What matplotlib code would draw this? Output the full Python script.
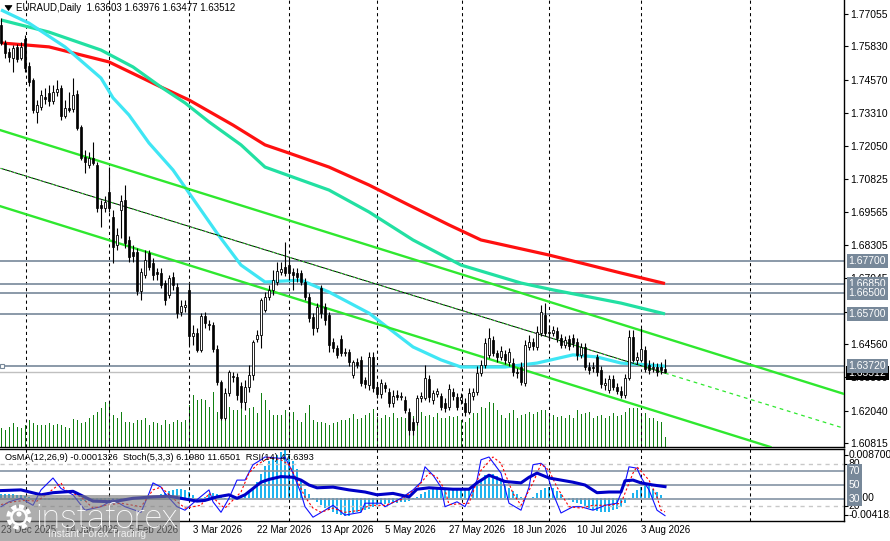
import numpy as np
import matplotlib
matplotlib.use("Agg")
import matplotlib.pyplot as plt
from matplotlib.patches import Rectangle, Circle, Polygon
import matplotlib.transforms as mtransforms

plt.rcParams['font.family'] = ['Liberation Sans', 'DejaVu Sans']

# ---------------- data ----------------
header = "EURAUD,Daily  1.63603 1.63976 1.63477 1.63512"
ind_header = "OsMA(12,26,9) -0.0001326  Stoch(5,3,3) 6.1980 11.6501  RSI(14) 47.6393"

opens = [1.7664,1.7596,1.7562,1.7539,1.7581,1.7539,1.7611,1.7509,1.7456,1.7334,
         1.7353,1.7391,1.7406,1.7376,1.7410,1.7425,1.7319,1.7350,1.7346,1.7403,
         1.7278,1.7164,1.7134,1.7160,1.7134,1.6982,1.6971,1.7032,1.6937,1.6831,
         1.6963,1.7001,1.6850,1.6804,1.6804,1.6657,1.6717,1.6801,1.6763,1.6729,
         1.6725,1.6687,1.6642,1.6710,1.6672,1.6577,1.6596,1.6661,1.6486,1.6498,
         1.6433,1.6562,1.6532,1.6528,1.6437,1.6312,1.6176,1.6271,1.6335,1.6331,
         1.6297,1.6237,1.6293,1.6339,1.6475,1.6490,1.6585,1.6634,1.6661,1.6691,
         1.6729,1.6748,1.6755,1.6729,1.6725,1.6725,1.6691,1.6634,1.6558,1.6517,
         1.6668,1.6596,1.6566,1.6464,1.6441,1.6475,1.6422,1.6426,1.6339,1.6388,
         1.6396,1.6320,1.6301,1.6407,1.6293,1.6267,1.6301,1.6274,1.6233,1.6263,
         1.6256,1.6244,1.6199,1.6161,1.6161,1.6252,1.6252,1.6324,1.6244,1.6267,
         1.6259,1.6233,1.6218,1.6274,1.6256,1.6244,1.6233,1.6199,1.6259,1.6274,
         1.6346,1.6377,1.6415,1.6471,1.6422,1.6407,1.6418,1.6388,1.6384,1.6350,
         1.6369,1.6308,1.6445,1.6464,1.6445,1.6498,1.6566,1.6502,1.6498,1.6505,
         1.6479,1.6452,1.6475,1.6479,1.6464,1.6415,1.6445,1.6369,1.6369,1.6407,
         1.6358,1.6301,1.6282,1.6324,1.6293,1.6278,1.6263,1.6327,1.6483,1.6396,
         1.6396,1.6433,1.6377,1.6365,1.6369,1.6369,1.63603]
highs = [1.7690,1.7607,1.7577,1.7588,1.7592,1.7600,1.7626,1.7524,1.7463,1.7380,
         1.7418,1.7425,1.7437,1.7437,1.7456,1.7437,1.7380,1.7410,1.7463,1.7418,
         1.7285,1.7191,1.7183,1.7221,1.7145,1.7001,1.7017,1.7126,1.6963,1.6895,
         1.7020,1.7058,1.6865,1.6831,1.6820,1.6744,1.6812,1.6812,1.6782,1.6744,
         1.6744,1.6698,1.6717,1.6729,1.6687,1.6623,1.6623,1.6687,1.6528,1.6517,
         1.6573,1.6577,1.6547,1.6539,1.6452,1.6320,1.6290,1.6358,1.6350,1.6346,
         1.6312,1.6320,1.6377,1.6471,1.6509,1.6630,1.6653,1.6680,1.6736,1.6767,
         1.6767,1.6842,1.6782,1.6744,1.6744,1.6736,1.6706,1.6649,1.6573,1.6611,
         1.6680,1.6611,1.6577,1.6479,1.6452,1.6490,1.6441,1.6437,1.6396,1.6403,
         1.6411,1.6331,1.6426,1.6426,1.6308,1.6324,1.6312,1.6290,1.6282,1.6282,
         1.6274,1.6259,1.6214,1.6176,1.6263,1.6274,1.6377,1.6339,1.6282,1.6290,
         1.6271,1.6252,1.6305,1.6290,1.6271,1.6271,1.6252,1.6290,1.6290,1.6373,
         1.6396,1.6479,1.6517,1.6486,1.6433,1.6449,1.6433,1.6441,1.6403,1.6365,
         1.6388,1.6471,1.6490,1.6479,1.6524,1.6604,1.6611,1.6528,1.6524,1.6521,
         1.6494,1.6486,1.6490,1.6494,1.6479,1.6460,1.6460,1.6388,1.6388,1.6418,
         1.6373,1.6327,1.6339,1.6339,1.6308,1.6297,1.6343,1.6509,1.6509,1.6426,
         1.6517,1.6449,1.6396,1.6388,1.6384,1.6388,1.63976]
lows = [1.7588,1.7539,1.7524,1.7486,1.7524,1.7531,1.7486,1.7433,1.7331,1.7293,
        1.7342,1.7365,1.7357,1.7365,1.7395,1.7304,1.7312,1.7334,1.7334,1.7266,
        1.7153,1.7104,1.7122,1.7134,1.6956,1.6899,1.6956,1.6956,1.6763,1.6812,
        1.6857,1.6820,1.6767,1.6767,1.6642,1.6623,1.6706,1.6736,1.6698,1.6698,
        1.6668,1.6604,1.6630,1.6661,1.6555,1.6562,1.6577,1.6452,1.6452,1.6426,
        1.6426,1.6517,1.6509,1.6426,1.6301,1.6168,1.6168,1.6259,1.6312,1.6244,
        1.6214,1.6206,1.6274,1.6320,1.6464,1.6441,1.6577,1.6623,1.6642,1.6680,
        1.6717,1.6714,1.6698,1.6661,1.6691,1.6680,1.6623,1.6539,1.6490,1.6502,
        1.6555,1.6528,1.6426,1.6426,1.6403,1.6411,1.6411,1.6373,1.6327,1.6365,
        1.6297,1.6290,1.6282,1.6274,1.6252,1.6252,1.6274,1.6218,1.6218,1.6244,
        1.6244,1.6195,1.6112,1.6112,1.6150,1.6237,1.6244,1.6237,1.6229,1.6256,
        1.6206,1.6199,1.6206,1.6244,1.6206,1.6229,1.6184,1.6191,1.6244,1.6263,
        1.6335,1.6365,1.6403,1.6411,1.6388,1.6396,1.6380,1.6373,1.6335,1.6327,
        1.6301,1.6297,1.6433,1.6433,1.6433,1.6486,1.6486,1.6471,1.6486,1.6464,
        1.6441,1.6441,1.6433,1.6445,1.6396,1.6403,1.6358,1.6343,1.6350,1.6335,
        1.6290,1.6282,1.6271,1.6282,1.6267,1.6252,1.6252,1.6320,1.6388,1.6380,
        1.6388,1.6350,1.6343,1.6350,1.6335,1.6343,1.63477]
closes = [1.7596,1.7558,1.7543,1.7577,1.7535,1.7581,1.7501,1.7448,1.7342,1.7361,
          1.7399,1.7384,1.7376,1.7410,1.7422,1.7319,1.7350,1.7342,1.7399,1.7274,
          1.7160,1.7145,1.7160,1.7141,1.6971,1.6971,1.6994,1.6971,1.6823,1.6869,
          1.6998,1.6839,1.6786,1.6789,1.6657,1.6729,1.6774,1.6748,1.6717,1.6721,
          1.6680,1.6623,1.6706,1.6680,1.6573,1.6600,1.6604,1.6486,1.6498,1.6433,
          1.6562,1.6536,1.6528,1.6437,1.6312,1.6176,1.6271,1.6350,1.6331,1.6263,
          1.6237,1.6293,1.6339,1.6464,1.6490,1.6623,1.6634,1.6661,1.6698,1.6733,
          1.6740,1.6725,1.6725,1.6717,1.6710,1.6691,1.6634,1.6555,1.6517,1.6596,
          1.6573,1.6547,1.6452,1.6441,1.6415,1.6422,1.6426,1.6388,1.6388,1.6377,
          1.6308,1.6305,1.6407,1.6290,1.6267,1.6308,1.6290,1.6233,1.6259,1.6256,
          1.6259,1.6206,1.6131,1.6131,1.6252,1.6259,1.6327,1.6256,1.6271,1.6278,
          1.6218,1.6214,1.6286,1.6259,1.6218,1.6256,1.6199,1.6271,1.6274,1.6346,
          1.6377,1.6460,1.6479,1.6422,1.6407,1.6430,1.6396,1.6426,1.6350,1.6346,
          1.6312,1.6452,1.6464,1.6449,1.6502,1.6577,1.6498,1.6498,1.6509,1.6479,
          1.6452,1.6471,1.6449,1.6460,1.6415,1.6445,1.6369,1.6358,1.6365,1.6350,
          1.6305,1.6308,1.6324,1.6293,1.6278,1.6263,1.6327,1.6483,1.6396,1.6407,
          1.6437,1.6361,1.6358,1.6369,1.6350,1.6358,1.63512]
volumes = [1900,1700,2000,2400,2000,1900,2200,2700,2400,2200,2200,2200,2400,2200,2300,2200,2000,1900,2800,2700,
           2400,2500,2900,3200,3500,3900,4500,4400,3200,2900,3500,2500,2500,2400,2700,2700,2900,2200,2500,2400,
           2200,2700,2300,2500,2700,2500,2700,4200,5200,4700,4800,4700,4000,5500,3500,3400,4500,4000,3700,3700,
           3900,3200,3900,4000,3400,5400,4700,3700,3200,3200,3200,3700,3500,3500,2700,2500,3400,4200,2700,2500,
           2500,2400,2200,2400,2500,2700,2700,2900,3300,2800,2900,3200,3400,3800,3000,2900,3200,3000,3400,2900,
           3000,2900,3300,3100,2700,3500,3100,3200,3000,3400,2900,2900,3100,3000,3100,2700,2500,2900,3400,3400,
           4000,3900,4500,4400,3700,3200,2900,3400,3700,2900,3200,3300,3500,3300,3500,3700,3700,3400,3200,3000,
           3100,2900,3200,2900,3700,3300,3400,3500,2900,3100,3200,2900,3100,3400,3100,3200,3500,3900,3900,3900,
           3200,3400,2900,2900,2600,2500,1000]

# moving averages (read at selected bars)
ma_red_idx = [0,12,27,40,47,58,66,72,82,92,102,112,120,137,155,166]
ma_red_val = [1.7596,1.7581,1.7524,1.7429,1.7380,1.7285,1.7210,1.7179,1.7126,1.7058,1.6982,1.6907,1.6850,1.6793,1.6725,1.6685]
ma_teal_idx = [0,12,25,33,40,46,52,60,66,75,82,92,103,115,130,138,155,166]
ma_teal_val = [1.7683,1.7637,1.7569,1.7505,1.7429,1.7369,1.7297,1.7210,1.7126,1.7077,1.7039,1.6956,1.6850,1.6755,1.6687,1.6661,1.6611,1.6570]
ma_cyan_idx = [0,7,16,25,28,32,37,43,47,54,60,66,75,82,92,103,110,115,126,134,143,149,155,166]
ma_cyan_val = [1.7721,1.7671,1.7581,1.7463,1.7388,1.7323,1.7217,1.7115,1.7028,1.6876,1.6755,1.6691,1.6698,1.6653,1.6573,1.6445,1.6396,1.6369,1.6369,1.6384,1.6415,1.6407,1.6384,1.6372]

# channel anchors (bar index, price)
ch_upper = [(0, 1.7265), (166, 1.6479)]
ch_mid = [(0, 1.7121), (166, 1.6346)]
ch_lower = [(0, 1.6977), (166, 1.6191)]

levels = [1.67700, 1.66850, 1.66500, 1.65700, 1.63720]
bid = 1.63512
price_ticks = [1.77055, 1.75830, 1.74570, 1.73310, 1.72050, 1.70825, 1.69565, 1.68305,
               1.67045, 1.65785, 1.64560, 1.63300, 1.62040, 1.60815]

osma_e4 = [6,7,7,6,5,4,3,
           1,-1,-3,-4,-4,-4,
           -3,-3,-2,-3,-4,-5,-5,-6,
           -6,-6,-5,-5,-6,-6,-6,-5,-5,-5,
           -5,-4,-4,-3,-2,-1,0,2,
           3,6,9,12,14,15,15,13,
           10,5,0,-3,2,6,8,6,2,-3,-4,-2,1,3,5,
           9,15,28,42,56,65,72,77,82,85,76,66,52,34,16,6,
           -3,-8,-13,-18,-22,-26,-29,-31,-33,-32,
           -27,-26,-25,-23,-20,-17,-14,-12,-11,-10,-9,-9,-8,-8,-6,-3,2,
           6,10,13,15,17,17,16,16,15,15,14,13,15,19,24,30,40,
           43,42,38,30,24,18,12,6,1,-2,-1,2,
           8,14,18,19,17,12,6,0,
           -5,-8,-10,-12,-16,-19,-22,-24,-26,-26,-25,-23,-20,-16,-10,-3,
           8,14,19,22,21,16,10,4,-1.326]

rsi_idx = [0,5,10,13,18,23,28,33,38,42,46,49,51,54,57,59,61,63,65,67,70,73,75,77,79,83,87,91,94,98,
           102,104,107,110,113,117,119,122,126,130,132,134,137,143,146,149,152,155,156,158,160,163,166]
rsi_val = [42,43,36,39,41,27,26,31,33,34,30,27,28,33,36,31,36,45,54,58,62,61,57,50,46,47,43,40,36,38,
           33,44,46,45,44,44,53,64,55,53,61,67,60,54,50,39,40,40,56,57,53,50,47.64]

stk_main_idx = [0,2,5,8,10,13,15,18,21,25,28,31,35,37,38,40,41,44,46,49,52,53,55,57,59,61,63,65,66,70,
                71,73,75,76,78,81,83,86,90,91,95,96,100,103,105,106,108,110,111,114,116,119,120,122,125,127,130,
                132,133,135,136,138,140,143,145,148,151,154,156,157,159,160,162,164,166]
stk_main_val = [19,26,31,21,43,60,45,36,14,19,29,19,11,38,53,47,38,19,14,29,43,26,11,31,57,57,79,86,90,88,
                90,67,38,19,4,14,21,7,11,24,24,19,31,43,54,76,64,47,19,26,19,57,86,90,67,24,14,
                47,79,81,76,38,10,19,19,14,21,24,53,76,74,61,43,14,6.198]
stk_sig_idx = [0,3,6,9,11,15,16,20,23,26,30,35,38,40,43,46,50,52,55,56,60,62,64,67,70,72,74,76,78,80,
               83,86,90,92,96,100,104,107,109,111,112,117,120,123,125,128,130,133,135,137,139,142,145,148,152,155,
               158,159,162,164,165,166]
stk_sig_val = [22,26,28,27,35,53,43,33,17,21,24,19,43,47,31,17,21,38,21,17,40,67,79,89,86,79,57,33,17,11,
               17,11,14,21,21,29,46,67,61,43,22,24,71,90,81,38,21,53,80,71,47,19,17,21,21,24,
               67,76,57,33,14,11.65]

date_idx = [0,16,32,48,64,80,96,112,128,144,160]
date_txt = ["23 Dec 2025","14 Jan 2026","5 Feb 2026","3 Mar 2026","22 Mar 2026","13 Apr 2026",
            "5 May 2026","27 May 2026","18 Jun 2026","10 Jul 2026","3 Aug 2026"]
grid_idx = [6.25, 27, 47, 72, 94, 115.25, 137, 160, 187.25]

# ---------------- figure ----------------
W, H = 890.0, 541.0
fig = plt.figure(figsize=(8.9, 5.41), dpi=100)
fig.patch.set_facecolor('white')
ax = fig.add_axes([0, 1 - 447/H, 844/W, 447/H])
axi = fig.add_axes([0, 1 - 521/H, 844/W, 72/H])

o = np.array(opens); h = np.array(highs); l = np.array(lows); c = np.array(closes)
n = len(c); idx = np.arange(n)
XL = (-0.25, 210.75)
YL = (1.60662, 1.77585)

# volumes on twin axis behind
axv = ax.twinx()
axv.set_ylim(0, 44700)
axv.vlines(idx, 0, volumes, color='#117f11', lw=0.72, antialiased=False)
axv.axis('off')
ax.set_zorder(axv.get_zorder() + 1)
ax.patch.set_visible(False)

ax.set_xlim(XL); ax.set_ylim(YL); axv.set_xlim(XL)
for g in grid_idx:
    ax.axvline(g, color='black', lw=0.75, ls=(0, (3, 3)), zorder=1)

# horizontal levels
for lv in levels:
    ax.axhline(lv, color='#778899', lw=1.2, zorder=2)
ax.axhline(bid, color='#c0c0c0', lw=1.0, zorder=2)
ax.plot([0.3], [levels[-1]], marker='s', ms=3.5, mfc='white', mec='#778899', mew=0.8, zorder=3, clip_on=False)

# MAs
ax.plot(ma_red_idx, ma_red_val, color='#ff1010', lw=2.3, zorder=4, solid_capstyle='butt')
ax.plot(ma_teal_idx, ma_teal_val, color='#22e0a2', lw=2.3, zorder=4, solid_capstyle='butt')
ax.plot(ma_cyan_idx, ma_cyan_val, color='#3fe6f4', lw=2.3, zorder=4, solid_capstyle='butt')

# channel
green = '#2fe82f'
ax.axline(ch_upper[0], ch_upper[1], color=green, lw=1.7, zorder=4)
ax.axline(ch_lower[0], ch_lower[1], color=green, lw=1.7, zorder=4)
mx = [p[0] for p in ch_mid]; my = [p[1] for p in ch_mid]
ax.plot(mx, my, color='black', lw=0.7, zorder=4)
ax.plot(mx, my, color=green, lw=0.8, ls=(0, (1.5, 2.5)), zorder=4)
slope = (my[1] - my[0]) / (mx[1] - mx[0])
ax.plot([mx[1], XL[1]], [my[1], my[1] + slope * (XL[1] - mx[1])], color=green, lw=0.9,
        ls=(0, (3, 3)), zorder=4)

# candles
ax.vlines(idx, l, h, color='black', lw=0.8, zorder=5)
up = c >= o
bot = np.minimum(o, c)
bh = np.maximum(np.abs(c - o), 0.00009)
ax.bar(idx[~up], bh[~up], bottom=bot[~up], width=0.72, color='black', edgecolor='black', lw=0.5, zorder=6)
ax.bar(idx[up], bh[up], bottom=bot[up], width=0.72, color='white', edgecolor='black', lw=0.6, zorder=6)

# axes style main
for s in ['top', 'left']:
    ax.spines[s].set_visible(False)
ax.spines['right'].set_linewidth(1.0)
ax.spines['bottom'].set_linewidth(1.0)
ax.set_xticks([])
ax.yaxis.tick_right()
ax.set_yticks(price_ticks)
ax.set_yticklabels(["%.5f" % t for t in price_ticks])
ax.tick_params(axis='y', direction='out', length=3, width=0.8, pad=1.5, labelsize=7.5, colors='black')

ytr = ax.get_yaxis_transform()
xl = 1.0 + 4.5/844
ax.text(xl, bid - 0.00045, "%.5f" % bid, transform=ytr, ha='left', va='center', fontsize=7.5, color='white',
        bbox=dict(boxstyle='square,pad=0.22', fc='black', ec='none'), zorder=9, clip_on=False)
for lv in levels:
    ax.text(xl, lv, "%.5f" % lv, transform=ytr, ha='left', va='center', fontsize=7.5, color='white',
            bbox=dict(boxstyle='square,pad=0.18', fc='#778899', ec='none'), zorder=10, clip_on=False)

# ---------------- indicator ----------------
axo = axi.twinx()
axo.set_ylim(-0.004182, 0.0087007)
axo.set_xlim(XL)
axo.bar(idx, np.array(osma_e4) * 1e-4, width=0.72, color='#1eb4f0', lw=0)
axo.axis('off')
axi.set_zorder(axo.get_zorder() + 1)
axi.patch.set_visible(False)
axi.set_xlim(XL); axi.set_ylim(-1.43, 101.43)
for g in grid_idx:
    axi.axvline(g, color='black', lw=0.75, ls=(0, (3, 3)), zorder=1)
for lv in [80, 20]:
    axi.axhline(lv, color='#c8c8c8', lw=1.0, ls=(0, (3, 3)), zorder=1)
for lv in [70, 50, 30]:
    axi.axhline(lv, color='#8494a4', lw=1.2, zorder=1)
axi.plot(stk_main_idx, stk_main_val, color='#1010ff', lw=0.8, zorder=3)
axi.plot(stk_sig_idx, stk_sig_val, color='#ff0000', lw=0.8, ls=(0, (2, 2)), zorder=3)
axi.plot(rsi_idx, rsi_val, color='#0000c8', lw=2.2, zorder=4)
for s in ['left']:
    axi.spines[s].set_visible(False)
for s in ['top', 'bottom', 'right']:
    axi.spines[s].set_linewidth(1.0)
axi.set_xticks([])
axi.yaxis.tick_right()
axi.set_yticks([93, 80, 20, 7])
axi.set_yticklabels([])
axi.tick_params(axis='y', direction='out', length=3, width=0.8)
itr = axi.get_yaxis_transform()
for val, txt in [(93, "0.0087007"), (80, "80"), (32, "0.000"), (20, "20"), (7, "-0.004182")]:
    axi.text(xl, val, txt, transform=itr, ha='left', va='center', fontsize=7.5, color='black', clip_on=False)
for val in [70, 50, 30]:
    axi.text(xl, val, str(val), transform=itr, ha='left', va='center', fontsize=7.5, color='white',
             bbox=dict(boxstyle='square,pad=0.15', fc='#778899', ec='none'), zorder=10, clip_on=False)

# date labels
dtr = mtransforms.blended_transform_factory(axi.transData, axi.transAxes)
for di, dt in zip(date_idx, date_txt):
    axi.text(di, -0.125, dt, transform=dtr, ha='left', va='center', fontsize=7.0, color='black', clip_on=False)

# ---------------- overlay (header, watermark) ----------------
ov = fig.add_axes([0, 0, 1, 1])
ov.set_xlim(0, W); ov.set_ylim(H, 0)
ov.axis('off')
ov.patch.set_visible(False)
ov.set_zorder(50)
ov.add_patch(Polygon([(5, 5.5), (12, 5.5), (8.5, 10.5)], closed=True, fc='black', ec='black', lw=0.5))
ov.text(16, 8, header, ha='left', va='center', fontsize=7.0, color='black')
ov.text(5, 457, ind_header, ha='left', va='center', fontsize=6.7, color='black')

ov.add_patch(Rectangle((0, 495), 180, 46, fc='#7d7d7d', ec='none', alpha=0.62))
ov.add_patch(Circle((19, 517), 10.5, fill=False, ec='white', lw=3.0, ls=(0, (1.2, 0.8))))
ov.add_patch(Circle((19, 517), 7.5, fill=False, ec='white', lw=1.8))
ov.add_patch(Circle((19, 514), 2.6, fc='white', ec='none'))
ov.text(36, 519, "instaforex", ha='left', va='center', fontsize=24, color='white',
        family=['Roboto', 'DejaVu Sans'], fontweight='light')
ov.text(48, 534, "Instant Forex Trading", ha='left', va='center', fontsize=7.5, color='#eeeeee')

fig.savefig("out.png", dpi=100, facecolor='white')
